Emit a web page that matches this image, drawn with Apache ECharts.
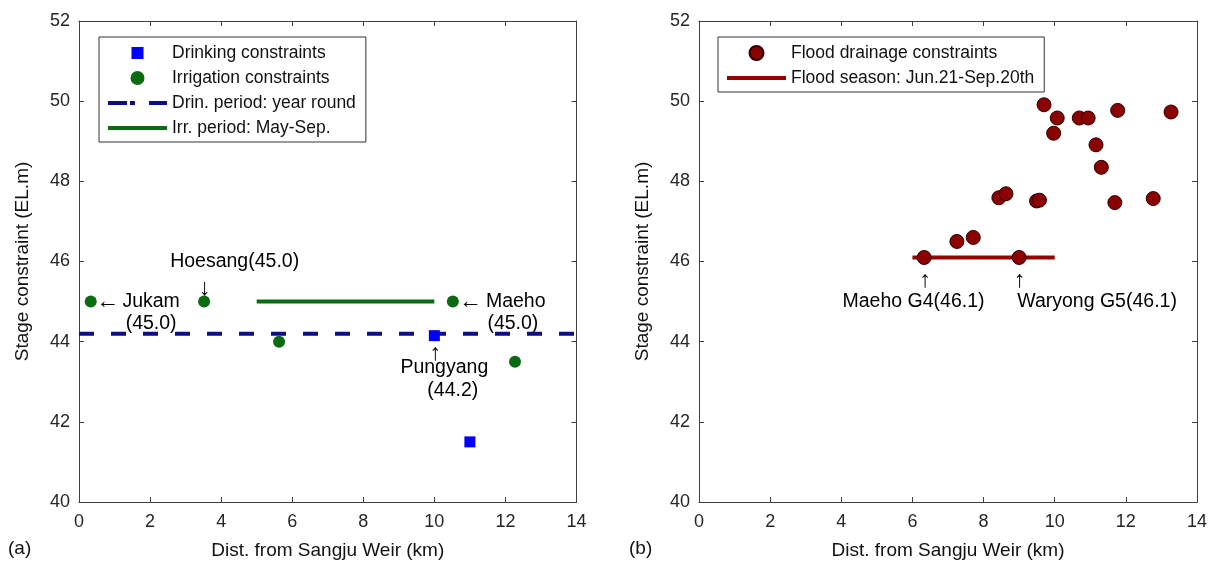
<!DOCTYPE html>
<html><head><meta charset="utf-8">
<script src="https://cdn.jsdelivr.net/npm/echarts@6/dist/echarts.min.js"></script>
<style>html,body{margin:0;padding:0;background:#fff}#c{width:1211px;height:565px}</style>
</head><body><div id="c"></div>
<script>
// ---- data ----
const xTickMin = 0, xTickMax = 14, xTickStep = 2;
const yTickMin = 40, yTickMax = 52, yTickStep = 2;

const drinkingX = [10.0, 11.0];
const drinkingY = [44.15, 41.5];
const irrigationX = [0.33, 3.52, 5.63, 10.52, 12.27];
const irrigationY = [45.0, 45.0, 44.0, 45.0, 43.5];
const drinPeriodX = [0, 14];
const drinPeriodY = [44.2, 44.2];
const irrPeriodX = [5, 10];
const irrPeriodY = [45.0, 45.0];

const floodX = [9.70, 10.07, 10.69, 10.94, 11.77, 13.27, 9.97, 11.16, 11.31, 8.43, 8.63, 9.49, 9.57, 11.69, 12.77, 7.25, 7.71, 6.33, 9.00];
const floodY = [49.91, 49.58, 49.58, 49.58, 49.77, 49.73, 49.20, 48.91, 48.35, 47.59, 47.69, 47.51, 47.53, 47.47, 47.57, 46.50, 46.60, 46.10, 46.10];
const floodSeasonX = [6, 10];
const floodSeasonY = [46.1, 46.1];

const legendA = ['Drinking constraints', 'Irrigation constraints', 'Drin. period: year round', 'Irr. period: May-Sep.'];
const legendB = ['Flood drainage constraints', 'Flood season: Jun.21-Sep.20th'];

// annotation texts with anchor (data coords)
const annotTextA = ['\u2190', 'Jukam', '(45.0)', '\u2193', 'Hoesang(45.0)', '\u2190', 'Maeho', '(45.0)', '\u2191', 'Pungyang', '(44.2)'];
const annotXA = [0.80, 2.03, 2.03, 3.54, 4.38, 11.01, 12.29, 12.21, 10.03, 10.28, 10.52];
const annotYA = [45.0, 45.0, 44.44, 45.33, 45.99, 45.0, 45.0, 44.45, 43.69, 43.35, 42.77];
const annotTextB = ['\u2191', '\u2191', 'Maeho G4(46.1)', 'Waryong G5(46.1)'];
const annotXB = [6.36, 9.02, 6.03, 11.19];
const annotYB = [45.53, 45.53, 44.99, 44.99];

const xTitle = 'Dist. from Sangju Weir (km)';
const yTitle = 'Stage constraint (EL.m)';

// ---- helpers ----
const FONT = 'Liberation Sans, Arial, Helvetica, sans-serif';
const zip = (xs, ys) => xs.map((x, i) => [x, ys[i]]);
const axisColor = '#404040';
const isArrow = t => /[\u2190-\u2193]/.test(t);

function xAx(gridIndex, top) {
  return {
    type: 'value', gridIndex, position: top ? 'top' : 'bottom',
    min: xTickMin, max: xTickMax, interval: xTickStep,
    name: top ? '' : xTitle, nameLocation: 'middle', nameGap: 39,
    nameTextStyle: { fontSize: 19, fontFamily: FONT, color: '#111' },
    axisLine: { show: true, onZero: false, lineStyle: { color: axisColor, width: 1 } },
    axisTick: { show: true, inside: true, length: 5, lineStyle: { color: axisColor } },
    axisLabel: { show: !top, fontSize: 18, fontFamily: FONT, color: '#262626', margin: 11 },
    splitLine: { show: false }
  };
}
function yAx(gridIndex, right) {
  return {
    type: 'value', gridIndex, position: right ? 'right' : 'left',
    min: yTickMin, max: yTickMax, interval: yTickStep,
    name: right ? '' : yTitle, nameLocation: 'middle', nameGap: 47, nameRotate: 90,
    nameTextStyle: { fontSize: 19, fontFamily: FONT, color: '#111' },
    axisLine: { show: true, onZero: false, lineStyle: { color: axisColor, width: 1 } },
    axisTick: { show: true, inside: true, length: 5, lineStyle: { color: axisColor } },
    axisLabel: { show: !right, fontSize: 18, fontFamily: FONT, color: '#262626', margin: 9 },
    splitLine: { show: false }
  };
}
function annotSeries(texts, xs, ys, axisIdx) {
  return {
    type: 'scatter', xAxisIndex: axisIdx, yAxisIndex: axisIdx, silent: true, z: 10,
    symbol: 'circle', symbolSize: 1, itemStyle: { color: 'rgba(255,255,255,0)' },
    data: texts.map((t, i) => ({
      name: t, value: [xs[i], ys[i]],
      label: isArrow(t) ? { fontSize: 23 } : {}
    })),
    label: { show: true, position: 'inside', formatter: p => p.name, fontSize: 19.5, fontFamily: FONT,
             color: '#000', textBorderWidth: 0, textShadowBlur: 0, opacity: 1 }
  };
}

const green = '#0b6a12';
const squareIcon = 'path://M0,0M14,14M1,1h12v12h-12z';
const legendCommon = {
  orient: 'vertical', itemWidth: 59, itemHeight: 14, itemGap: 7,
  padding: [7, 10, 5, 7], borderColor: '#333', borderWidth: 1, backgroundColor: '#fff',
  symbolKeepAspect: true,
  textStyle: { fontSize: 17.5, fontFamily: FONT, color: '#111' }
};
const hiddenSymbol = { opacity: 0 };

const option = {
  animation: false,
  backgroundColor: '#fff',
  grid: [
    { left: 79, top: 21, width: 497.5, height: 481 },
    { left: 699, top: 21, width: 498, height: 481 }
  ],
  xAxis: [xAx(0, false), xAx(0, true), xAx(1, false), xAx(1, true)],
  yAxis: [yAx(0, false), yAx(0, true), yAx(1, false), yAx(1, true)],
  legend: [
    Object.assign({}, legendCommon, {
      left: 99, top: 37,
      data: [
        { name: legendA[0], icon: squareIcon },
        { name: legendA[1], icon: 'circle' },
        { name: legendA[2], lineStyle: { type: [19, 3, 5, 14], width: 4 }, itemStyle: hiddenSymbol },
        { name: legendA[3], lineStyle: { width: 4 }, itemStyle: hiddenSymbol }
      ]
    }),
    Object.assign({}, legendCommon, {
      left: 718, top: 37,
      data: [
        { name: legendB[0], icon: 'circle' },
        { name: legendB[1], lineStyle: { width: 4 }, itemStyle: hiddenSymbol }
      ]
    })
  ],
  graphic: [
    { type: 'text', left: 8, top: 539, style: { text: '(a)', fontSize: 19, fontFamily: FONT, fill: '#111' } },
    { type: 'text', left: 629, top: 539, style: { text: '(b)', fontSize: 19, fontFamily: FONT, fill: '#111' } }
  ],
  series: [
    { name: legendA[2], type: 'line', xAxisIndex: 0, yAxisIndex: 0, data: zip(drinPeriodX, drinPeriodY),
      symbol: 'none', z: 2, lineStyle: { color: '#0b0b8c', width: 4, type: [15, 17], cap: 'butt' }, itemStyle: { color: '#0b0b8c' } },
    { name: legendA[3], type: 'line', xAxisIndex: 0, yAxisIndex: 0, data: zip(irrPeriodX, irrPeriodY),
      symbol: 'none', z: 2, lineStyle: { color: green, width: 4, type: 'solid' }, itemStyle: { color: green } },
    { name: legendA[0], type: 'scatter', xAxisIndex: 0, yAxisIndex: 0, data: zip(drinkingX, drinkingY),
      symbol: 'rect', symbolSize: 11, z: 5, itemStyle: { color: '#0000ff', opacity: 1 } },
    { name: legendA[1], type: 'scatter', xAxisIndex: 0, yAxisIndex: 0, data: zip(irrigationX, irrigationY),
      symbol: 'circle', symbolSize: 12, z: 5, itemStyle: { color: green, opacity: 1 } },
    annotSeries(annotTextA, annotXA, annotYA, 0),

    { name: legendB[1], type: 'line', xAxisIndex: 2, yAxisIndex: 2, data: zip(floodSeasonX, floodSeasonY),
      symbol: 'none', z: 2, lineStyle: { color: '#990000', width: 4 }, itemStyle: { color: '#990000' } },
    { name: legendB[0], type: 'scatter', xAxisIndex: 2, yAxisIndex: 2, data: zip(floodX, floodY),
      symbol: 'circle', symbolSize: 14, z: 5, itemStyle: { color: '#8b0000', borderColor: '#2a0000', borderWidth: 1, opacity: 1 } },
    annotSeries(annotTextB, annotXB, annotYB, 2)
  ]
};
const chart = echarts.init(document.getElementById('c'), null, { renderer: 'canvas' });
chart.setOption(option);
</script>
</body></html>
